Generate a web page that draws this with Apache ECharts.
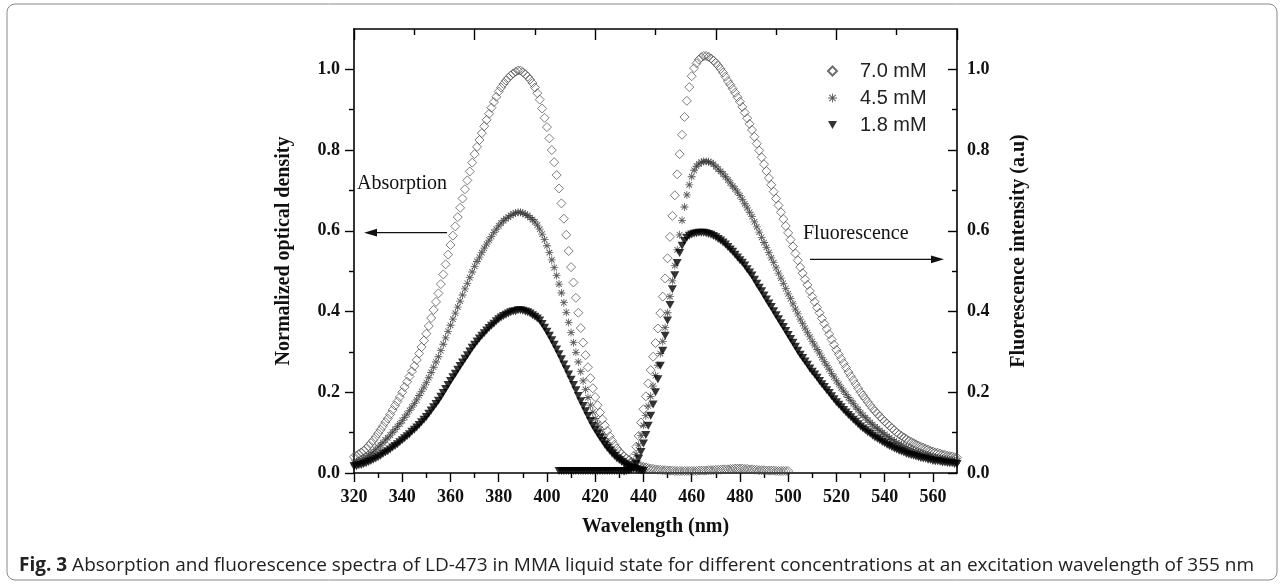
<!DOCTYPE html>
<html>
<head>
<meta charset="utf-8">
<title>LD-473 absorption and fluorescence</title>
<script src="https://cdn.jsdelivr.net/npm/echarts@6/dist/echarts.min.js"></script>
<style>
  html, body { margin: 0; padding: 0; background: #fff; }
  #main { width: 1284px; height: 586px; }
</style>
</head>
<body>
<div id="main"></div>
<script>
// wavelength (nm) of the first point of each spectrum, 1 nm steps
var absStart = 320;
var fl70Start = 432;
var fl45Start = 434;
var fl18Start = 405;

// normalized absorption, 320..500 nm (7.0 mM) and 320..440 nm
var abs70 = [
  .040,.043,.047,.051,.055,.060,.067,.074,.081,.089,
  .098,.107,.116,.126,.135,.145,.156,.167,.177,.188,
  .200,.213,.226,.239,.252,.265,.280,.296,.312,.328,
  .345,.364,.384,.404,.424,.445,.468,.492,.517,.541,
  .565,.588,.611,.634,.657,.680,.703,.725,.747,.769,
  .790,.808,.825,.842,.859,.875,.890,.905,.919,.932,
  .945,.955,.964,.972,.979,.985,.990,.994,.997,.997,
  .993,.988,.982,.975,.966,.955,.941,.925,.903,.880,
  .857,.829,.800,.770,.738,.705,.668,.630,.590,.550,
  .510,.472,.434,.397,.359,.323,.292,.262,.235,.210,
  .188,.168,.150,.133,.118,.104,.091,.080,.070,.061,
  .053,.047,.041,.036,.032,.028,.025,.022,.019,.017,
  .015,.014,.012,.011,.010,.009,.008,.008,.007,.007,
  .006,.006,.006,.005,.005,.005,.005,.005,.005,.005,
  .005,.005,.005,.006,.006,.006,.006,.007,.007,.007,
  .008,.008,.008,.009,.009,.009,.010,.010,.011,.011,
  .011,.011,.010,.010,.009,.009,.008,.008,.007,.007,
  .007,.006,.006,.006,.006,.005,.005,.005,.005,.005,
  .005
];
var abs45 = [
  .026,.028,.030,.033,.036,.039,.043,.048,.052,.058,
  .064,.069,.075,.082,.087,.094,.101,.108,.115,.122,
  .130,.138,.146,.155,.163,.172,.181,.192,.202,.213,
  .224,.236,.249,.262,.275,.288,.303,.319,.335,.351,
  .366,.381,.396,.411,.426,.441,.456,.470,.484,.498,
  .512,.524,.535,.546,.557,.567,.577,.586,.596,.604,
  .612,.619,.625,.630,.634,.638,.642,.644,.646,.646,
  .644,.641,.638,.633,.628,.622,.614,.604,.592,.578,
  .563,.546,.528,.509,.489,.468,.446,.422,.398,.373,
  .348,.323,.299,.275,.251,.228,.207,.187,.168,.151,
  .135,.121,.108,.096,.085,.075,.066,.058,.051,.044,
  .038,.033,.028,.024,.021,.018,.015,.013,.011,.010,
  .009
];
var abs18 = [
  .016,.017,.019,.020,.022,.024,.027,.030,.033,.036,
  .039,.043,.047,.051,.054,.058,.063,.067,.071,.076,
  .081,.086,.091,.096,.102,.107,.113,.119,.126,.132,
  .139,.147,.155,.163,.171,.179,.189,.198,.208,.218,
  .228,.237,.246,.256,.265,.274,.283,.292,.301,.310,
  .318,.326,.333,.340,.346,.353,.359,.365,.370,.376,
  .381,.385,.389,.392,.395,.398,.400,.401,.403,.403,
  .402,.400,.398,.395,.391,.387,.383,.378,.369,.360,
  .350,.340,.329,.318,.306,.294,.282,.269,.257,.244,
  .231,.218,.205,.191,.178,.166,.153,.141,.129,.117,
  .107,.097,.088,.079,.070,.062,.055,.048,.042,.036,
  .032,.027,.023,.019,.016,.013,.011,.009,.007,.006,
  .005
];

// fluorescence intensity (a.u.)
var fl70 = [
  .006,.010,.016,.026,.042,.065,.092,.125,
  .158,.190,.222,.255,.288,.322,.358,.396,.437,.482,
  .532,.585,.637,.688,.740,.790,.838,.882,.922,.956,
  .983,1.003,1.015,1.024,1.030,1.033,1.033,
  1.031,1.027,1.022,
  1.016,1.009,1.001,.992,.982,.971,.962,.952,.942,.931,
  .920,.907,.893,.879,.865,.850,.833,.816,.799,.782,
  .765,.748,.731,.714,.697,.680,.663,.646,.629,.612,
  .595,.578,.561,.544,.527,.510,.495,.480,.466,.451,
  .437,.424,.410,.397,.383,.370,.357,.344,.331,.318,
  .305,.294,.283,.272,.261,.250,.240,.230,.220,.210,
  .200,.192,.184,.176,.168,.160,.153,.147,.140,.134,
  .128,.122,.117,.111,.106,.100,.096,.092,.088,.084,
  .080,.077,.074,.071,.068,.065,.063,.060,.058,.055,
  .053,.051,.050,.048,.046,.045,.043,.042,.041,.039,
  .038
];
var fl45 = [
  .009,.015,.028,.046,.069,.093,
  .118,.142,.166,.190,.215,.241,.267,.296,.326,.360,
  .397,.437,.476,.514,.553,.590,.626,.659,.689,.714,
  .734,.750,.760,.766,.770,.772,.772,.771,.769,.765,
  .759,.753,.747,.741,.734,.726,.719,.711,.704,.696,
  .687,.678,.667,.657,.646,.635,.622,.610,.597,.584,
  .571,.559,.546,.533,.521,.508,.495,.483,.470,.457,
  .444,.432,.419,.406,.394,.381,.370,.359,.348,.337,
  .326,.317,.306,.297,.286,.276,.267,.257,.247,.238,
  .228,.220,.211,.203,.195,.187,.179,.172,.164,.157,
  .149,.143,.137,.131,.125,.120,.114,.110,.105,.100,
  .096,.091,.087,.083,.079,.075,.072,.069,.066,.063,
  .060,.058,.055,.053,.051,.049,.047,.045,.044,.042,
  .041,.039,.038,.037,.036,.035,.034,.033,.032,.031,
  .030
];
var fl18 = [
  .005,.005,.005,.005,.005,
  .005,.005,.005,.005,.005,.005,.005,.005,.005,.005,
  .005,.005,.005,.005,.005,.005,.005,.005,.005,.005,
  .005,.005,.005,.005,.006,.008,.012,.022,.035,.052,
  .073,.094,.117,.142,.170,.200,.232,.266,.303,.340,
  .378,.416,.455,.490,.520,.545,.563,.575,.583,.588,
  .591,.593,.594,.595,.595,.595,.594,.592,.590,.587,
  .584,.580,.576,.571,.566,.560,.554,.548,.541,.534,
  .527,.521,.514,.505,.497,.489,.479,.469,.459,.450,
  .440,.430,.420,.411,.401,.391,.381,.371,.362,.352,
  .342,.332,.323,.313,.303,.293,.285,.276,.268,.259,
  .251,.244,.236,.228,.220,.213,.205,.198,.190,.183,
  .175,.169,.163,.156,.150,.144,.138,.132,.127,.121,
  .115,.110,.106,.101,.097,.092,.088,.085,.081,.077,
  .074,.070,.067,.064,.061,.058,.055,.053,.051,.048,
  .046,.044,.043,.041,.039,.037,.036,.035,.033,.032,
  .030,.029,.029,.028,.026,.026,.025,.024,.024,.022,
  .022
];

var seriesNames = ['7.0 mM', '4.5 mM', '1.8 mM'];

// tick positions
var xMajor = [320, 340, 360, 380, 400, 420, 440, 460, 480, 500, 520, 540, 560];
var xMinor = [330, 350, 370, 390, 410, 430, 450, 470, 490, 510, 530, 550];
var topMinor = [345, 395, 445, 495, 545];
var yMajor = [0, 0.2, 0.4, 0.6, 0.8, 1.0];
var yMinor = [0.1, 0.3, 0.5, 0.7, 0.9];

function pts(start, vals) {
  return vals.map(function (v, i) { return [start + i, v]; });
}

var serif = 'Liberation Serif';
var asterisk = 'path://M4.5,0L5.5,0L5.5,10L4.5,10Z M0,4.5L10,4.5L10,5.5L0,5.5Z ' +
  'M1.9,1.1L8.9,8.1L8.1,8.9L1.1,1.9Z M8.1,1.1L8.9,1.9L1.9,8.9L1.1,8.1Z';
var downTriangle = 'path://M0,0L10,0L5,9Z';

var styles = [
  { symbol: 'diamond', symbolSize: 9,
    itemStyle: { color: 'rgba(255,255,255,0)', borderColor: '#4a4a4a', borderWidth: 0.9 } },
  { symbol: asterisk, symbolSize: 8,
    itemStyle: { color: '#333' } },
  { symbol: downTriangle, symbolSize: [9, 8],
    itemStyle: { color: '#000' } }
];

function mk(idx, yIdx, data) {
  var s = styles[idx];
  return {
    name: seriesNames[idx], type: 'scatter', xAxisIndex: 0, yAxisIndex: yIdx,
    symbol: s.symbol, symbolSize: s.symbolSize,
    itemStyle: s.itemStyle, data: data, z: 2 + idx
  };
}

var lineStyle = { color: '#000', width: 1.6 };
var tickStyle = { color: '#000', width: 1.4 };
var labelFont = { fontFamily: serif, fontWeight: 'bold', fontSize: 18, color: '#111' };
var nameFont = { fontFamily: serif, fontWeight: 'bold', fontSize: 20, color: '#111' };

var myChart = echarts.init(document.getElementById('main'), null, { renderer: 'canvas' });
var option = {
  animation: false,
  backgroundColor: '#fff',
  grid: { left: 354, right: 327, top: 29, bottom: 113 },
  legend: {
    data: seriesNames,
    orient: 'vertical',
    left: 822, top: 56,
    itemWidth: 9, itemHeight: 9, itemGap: 7,
    textStyle: { fontFamily: 'Liberation Sans', fontSize: 20, color: '#222', padding: [0, 0, 0, 18] }
  },
  xAxis: [
    {
      type: 'value', min: 320, max: 570, interval: 20, position: 'bottom',
      axisLine: { show: true, onZero: false, lineStyle: lineStyle },
      axisTick: { show: true, length: 9, lineStyle: tickStyle, customValues: xMajor },
      axisLabel: Object.assign({ margin: 15, customValues: xMajor }, labelFont),
      splitLine: { show: false },
      name: 'Wavelength (nm)', nameLocation: 'middle', nameGap: 44, nameTextStyle: nameFont
    },
    {
      type: 'value', min: 320, max: 570, position: 'bottom',
      axisLine: { show: false, onZero: false },
      axisTick: { show: true, length: 5, lineStyle: tickStyle, customValues: xMinor },
      axisLabel: { show: false }, splitLine: { show: false }
    },
    {
      type: 'value', min: 320, max: 570, interval: 50, position: 'top',
      axisLine: { show: true, onZero: false, lineStyle: lineStyle },
      axisTick: { show: true, inside: true, length: 11, lineStyle: tickStyle },
      axisLabel: { show: false }, splitLine: { show: false }
    },
    {
      type: 'value', min: 320, max: 570, position: 'top',
      axisLine: { show: false, onZero: false },
      axisTick: { show: true, inside: true, length: 6, lineStyle: tickStyle, customValues: topMinor },
      axisLabel: { show: false }, splitLine: { show: false }
    }
  ],
  yAxis: [
    {
      type: 'value', min: 0, max: 1.1, interval: 0.2, position: 'left',
      axisLine: { show: true, onZero: false, lineStyle: lineStyle },
      axisTick: { show: true, length: 9, lineStyle: tickStyle, customValues: yMajor },
      axisLabel: Object.assign({ margin: 14, customValues: yMajor,
        formatter: function (v) { return v.toFixed(1); } }, labelFont),
      splitLine: { show: false },
      name: 'Normalized optical density', nameLocation: 'middle', nameRotate: 90,
      nameGap: 60, nameTextStyle: nameFont
    },
    {
      type: 'value', min: 0, max: 1.1, interval: 0.2, position: 'right',
      axisLine: { show: true, onZero: false, lineStyle: lineStyle },
      axisTick: { show: true, inside: true, length: 9, lineStyle: tickStyle, customValues: yMajor },
      axisLabel: Object.assign({ margin: 10, customValues: yMajor,
        formatter: function (v) { return v.toFixed(1); } }, labelFont),
      splitLine: { show: false },
      name: 'Fluorescence intensity (a.u)', nameLocation: 'middle', nameRotate: 90,
      nameGap: 52, nameTextStyle: nameFont
    },
    {
      type: 'value', min: 0, max: 1.1, position: 'left',
      axisLine: { show: false, onZero: false },
      axisTick: { show: true, length: 5, lineStyle: tickStyle, customValues: yMinor },
      axisLabel: { show: false }, splitLine: { show: false }
    },
    {
      type: 'value', min: 0, max: 1.1, position: 'right',
      axisLine: { show: false, onZero: false },
      axisTick: { show: true, inside: true, length: 5, lineStyle: tickStyle, customValues: yMinor },
      axisLabel: { show: false }, splitLine: { show: false }
    }
  ],
  series: [
    mk(0, 0, pts(absStart, abs70)),
    mk(0, 1, pts(fl70Start, fl70)),
    mk(1, 0, pts(absStart, abs45)),
    mk(1, 1, pts(fl45Start, fl45)),
    mk(2, 0, pts(absStart, abs18)),
    mk(2, 1, pts(fl18Start, fl18))
  ],
  graphic: [
    { type: 'rect', silent: true, z: -1,
      shape: { x: 7, y: 4, width: 1270, height: 576, r: 8 },
      style: { fill: 'none', stroke: '#8a8a8a', lineWidth: 1 } },
    { type: 'text', left: 357, top: 174,
      style: { text: 'Absorption', font: '20px "Liberation Serif"', fill: '#111' } },
    { type: 'line', shape: { x1: 447, y1: 232.7, x2: 374, y2: 232.7 },
      style: { stroke: '#111', lineWidth: 1.2 } },
    { type: 'polygon', shape: { points: [[364, 232.7], [377, 228.8], [377, 236.6]] },
      style: { fill: '#111' } },
    { type: 'text', left: 803, top: 224,
      style: { text: 'Fluorescence', font: '20px "Liberation Serif"', fill: '#111' } },
    { type: 'line', shape: { x1: 810, y1: 259.3, x2: 934, y2: 259.3 },
      style: { stroke: '#111', lineWidth: 1.2 } },
    { type: 'polygon', shape: { points: [[944, 259.3], [931, 255.4], [931, 263.2]] },
      style: { fill: '#111' } },
    { type: 'text', left: 19, top: 556,
      style: {
        text: '{b|Fig. 3} Absorption and fluorescence spectra of LD-473 in MMA liquid state for different concentrations at an excitation wavelength of 355 nm',
        font: '19px "Open Sans"', fill: '#222',
        rich: { b: { font: 'bold 19px "Open Sans"', fill: '#222' } }
      } }
  ]
};
myChart.setOption(option);
</script>
</body>
</html>
